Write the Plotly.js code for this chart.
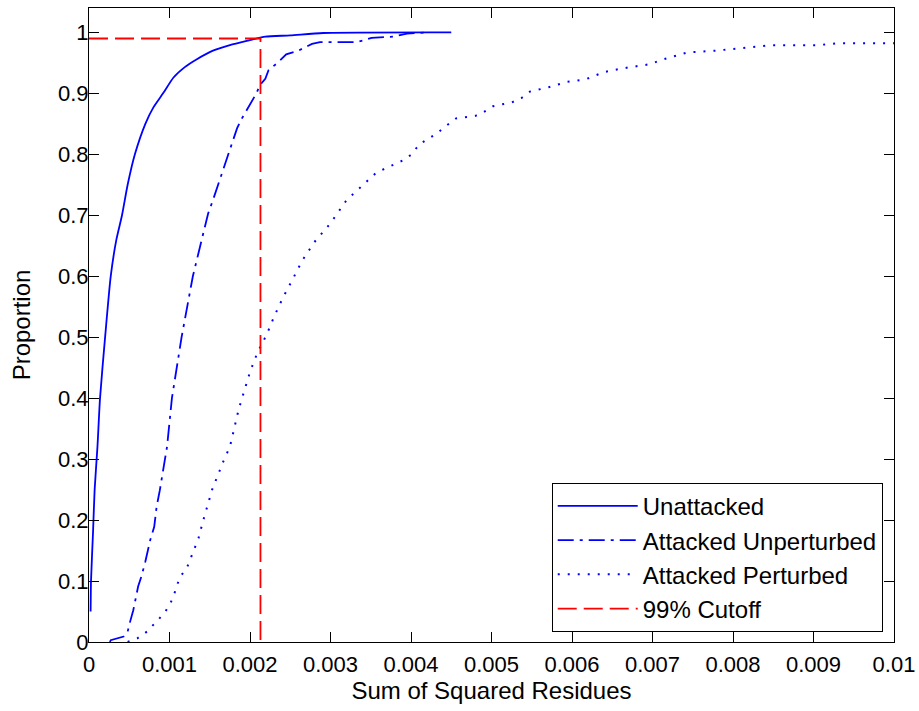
<!DOCTYPE html>
<html>
<head>
<meta charset="utf-8">
<script src="https://cdn.plot.ly/plotly-3.0.1.min.js"></script>
<style>html,body{margin:0;padding:0;background:#fff;}#chart{width:919px;height:711px;}</style>
</head>
<body>
<div id="chart"></div>
<script>
// Unattacked (solid)
const unattackedX = [0.00002, 0.000025, 0.00005, 0.00007, 0.000105, 0.000137, 0.0002, 0.00027, 0.00034, 0.00041, 0.00048, 0.00057, 0.0007, 0.0008, 0.00092, 0.00105, 0.00119, 0.00134, 0.00154, 0.00175, 0.00196, 0.00219, 0.0025, 0.00291, 0.0045];
const unattackedY = [0.05, 0.10, 0.18, 0.25, 0.32, 0.40, 0.50, 0.60, 0.66, 0.70, 0.75, 0.80, 0.85, 0.877, 0.90, 0.926, 0.943, 0.956, 0.970, 0.979, 0.986, 0.993, 0.995, 0.999, 1.0];

// Attacked Unperturbed (dash-dot)
const unpertX = [0.00026, 0.00027, 0.00043, 0.00048, 0.00051, 0.00055, 0.00061, 0.00065, 0.0007, 0.00076, 0.00081, 0.00084, 0.00088, 0.00092, 0.00097, 0.00103, 0.00115, 0.00129, 0.00148, 0.00154, 0.00169, 0.00184, 0.0019, 0.002, 0.00208, 0.00212, 0.00219, 0.00223, 0.00235, 0.00245, 0.0026, 0.00277, 0.00287, 0.00333, 0.00351, 0.00378, 0.00395, 0.0042];
const unpertY = [0, 0.003, 0.009, 0.017, 0.033, 0.052, 0.091, 0.107, 0.132, 0.167, 0.189, 0.222, 0.249, 0.282, 0.321, 0.40, 0.50, 0.60, 0.703, 0.725, 0.785, 0.843, 0.859, 0.883, 0.90, 0.913, 0.924, 0.938, 0.951, 0.964, 0.970, 0.981, 0.984, 0.984, 0.991, 0.993, 0.998, 1.0];

// Attacked Perturbed (dotted)
const pertX = [0.00048, 0.0006, 0.00072, 0.00083, 0.00094, 0.00101, 0.00106, 0.00109, 0.00115, 0.00122, 0.00127, 0.00132, 0.00136, 0.00142, 0.00153, 0.00168, 0.00175, 0.00186, 0.00193, 0.002, 0.00209, 0.00221, 0.0023, 0.00241, 0.00253, 0.00265, 0.0028, 0.003, 0.0032, 0.00357, 0.0039, 0.00401, 0.0041, 0.00421, 0.00433, 0.00444, 0.00456, 0.0048, 0.0049, 0.00502, 0.00525, 0.00537, 0.00548, 0.00571, 0.00594, 0.00617, 0.0064, 0.00663, 0.00698, 0.00709, 0.00743, 0.00778, 0.00824, 0.00847, 0.00904, 0.0093, 0.01];
const pertY = [0, 0.006, 0.017, 0.033, 0.048, 0.063, 0.079, 0.093, 0.11, 0.123, 0.14, 0.155, 0.17, 0.20, 0.25, 0.30, 0.32, 0.382, 0.413, 0.443, 0.474, 0.505, 0.534, 0.565, 0.595, 0.626, 0.656, 0.687, 0.725, 0.77, 0.79, 0.80, 0.816, 0.825, 0.835, 0.847, 0.859, 0.863, 0.869, 0.879, 0.885, 0.892, 0.903, 0.91, 0.919, 0.923, 0.935, 0.941, 0.948, 0.954, 0.967, 0.970, 0.976, 0.979, 0.979, 0.982, 0.982];

// 99% cutoff
const cutoffX = [0, 0.00213, 0.00213];
const cutoffY = [0.99, 0.99, 0];

const seriesNames = ["Unattacked", "Attacked Unperturbed", "Attacked Perturbed", "99% Cutoff"];

const xTickVals = [0, 0.001, 0.002, 0.003, 0.004, 0.005, 0.006, 0.007, 0.008, 0.009, 0.01];
const xTickText = ["0", "0.001", "0.002", "0.003", "0.004", "0.005", "0.006", "0.007", "0.008", "0.009", "0.01"];
const yTickVals = [0, 0.1, 0.2, 0.3, 0.4, 0.5, 0.6, 0.7, 0.8, 0.9, 1];
const yTickText = ["0", "0.1", "0.2", "0.3", "0.4", "0.5", "0.6", "0.7", "0.8", "0.9", "1"];

const FONT = "Liberation Sans, Arial, sans-serif";
const blue = "#0000ff";
const red = "#ff0000";

const traces = [
  {x: unattackedX, y: unattackedY, name: seriesNames[0], mode: "lines", line: {color: blue, width: 1.8, shape: "spline", smoothing: 0.6}},
  {x: unpertX, y: unpertY, name: seriesNames[1], mode: "lines", line: {color: blue, width: 1.8, dash: "16px,6px,3px,6px"}},
  {x: pertX, y: pertY, name: seriesNames[2], mode: "lines", line: {color: blue, width: 2, dash: "2px,8px"}},
  {x: cutoffX, y: cutoffY, name: seriesNames[3], mode: "lines", line: {color: red, width: 1.8, dash: "19px,7px"}}
];

const axisCommon = {
  showgrid: false, zeroline: false, showline: true, mirror: "ticks",
  linecolor: "#000", linewidth: 1, ticks: "inside", ticklen: 10, tickcolor: "#000", tickwidth: 1,
  tickfont: {family: FONT, size: 22, color: "#000"}, automargin: false
};

const layout = {
  width: 919, height: 711,
  margin: {l: 89, r: 25, t: 8, b: 69},
  paper_bgcolor: "#fff", plot_bgcolor: "#fff",
  font: {family: FONT, size: 22, color: "#000"},
  showlegend: true,
  xaxis: Object.assign({}, axisCommon, {
    range: [0, 0.01], tickmode: "array", tickvals: xTickVals, ticktext: xTickText,
    ticklabelstandoff: 3,
    title: {text: "Sum of Squared Residues", font: {family: FONT, size: 24, color: "#000"}, standoff: 1}
  }),
  yaxis: Object.assign({}, axisCommon, {
    range: [0, 1.04], tickmode: "array", tickvals: yTickVals, ticktext: yTickText,
    ticklabelstandoff: -5,
    title: {text: "Proportion", font: {family: FONT, size: 24, color: "#000"}, standoff: 20}
  }),
  legend: {
    x: 0.986, xanchor: "right", y: 0.016, yanchor: "bottom",
    bgcolor: "#fff", bordercolor: "#000", borderwidth: 1,
    font: {family: FONT, size: 24, color: "#000"},
    itemwidth: 80, tracegroupgap: 0
  }
};

Plotly.newPlot("chart", traces, layout, {staticPlot: true, displayModeBar: false});
</script>
</body>
</html>
